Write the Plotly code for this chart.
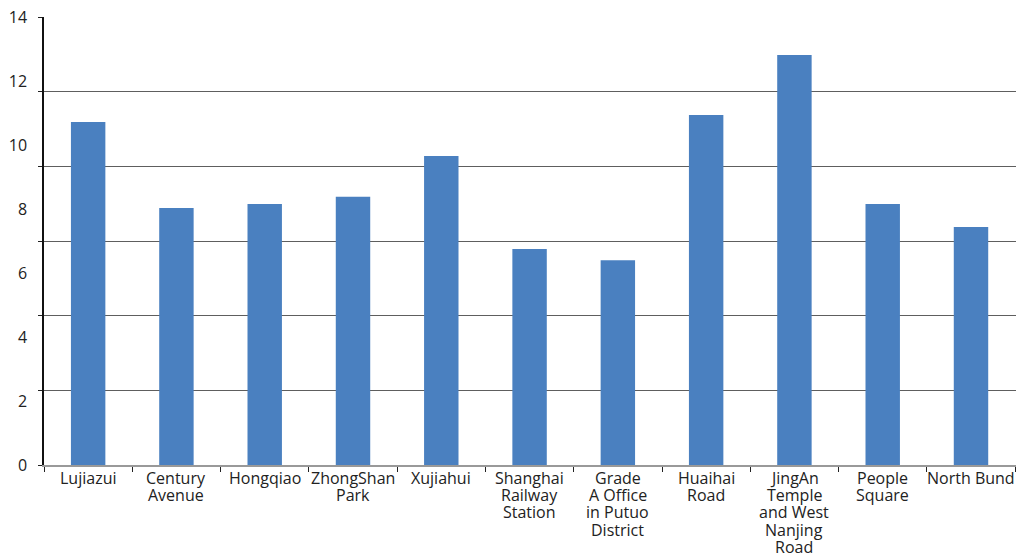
import plotly.graph_objects as go

categories = ["Lujiazui", "Century<br>Avenue", "Hongqiao", "ZhongShan<br>Park", "Xujiahui",
              "Shanghai<br>Railway<br>Station", "Grade<br>A Office<br>in Putuo<br>District",
              "Huaihai<br>Road", "JingAn<br>Temple<br>and West<br>Nanjing<br>Road",
              "People<br>Square", "North Bund"]
values = [10.72, 8.03, 8.16, 8.38, 9.66, 6.75, 6.4, 10.94, 12.81, 8.16, 7.44]
y_tick_values = [0, 2, 4, 6, 8, 10, 12, 14]
y_max = 14
grid_divisions = 6
grid_values = [y_max * k / grid_divisions for k in range(grid_divisions + 1)]

font = "Open Sans, Noto Sans, DejaVu Sans, sans-serif"
fig = go.Figure(go.Bar(x=categories, y=values, marker_color="#4a80c0",
                       marker_line_width=0, width=0.39))

# category labels drawn line by line for tighter line spacing
annotations = []
for cat in categories:
    for i, line in enumerate(cat.split("<br>")):
        annotations.append(dict(
            x=cat, y=0, xref="x", yref="y", text=line, showarrow=False,
            xanchor="center", yanchor="middle", yshift=-13 - 17.2 * i,
            font=dict(family=font, size=16, color="#222"), borderpad=0,
        ))

fig.update_layout(
    width=1017, height=555,
    margin=dict(l=44, r=1, t=17, b=90),
    paper_bgcolor="white", plot_bgcolor="white",
    font=dict(family=font, size=16, color="#222"),
    showlegend=False,
    annotations=annotations,
)
fig.update_xaxes(
    type="category", tickson="boundaries", ticks="outside", ticklen=5,
    tickcolor="#222", showline=True, linecolor="#999", linewidth=2,
    showgrid=False, showticklabels=False, automargin=False,
)
fig.update_yaxes(
    range=[0, y_max], tickvals=y_tick_values, ticks="", showgrid=False,
    showline=True, linecolor="#111", linewidth=1.5, zeroline=False,
    automargin=False, ticklabelstandoff=12, tickfont=dict(size=16, color="#222"),
    minor=dict(tickvals=grid_values, showgrid=True, gridcolor="#5e5e5e",
               gridwidth=1.3, ticks="outside", ticklen=4, tickcolor="#222"),
)
fig.write_html("out.html")
